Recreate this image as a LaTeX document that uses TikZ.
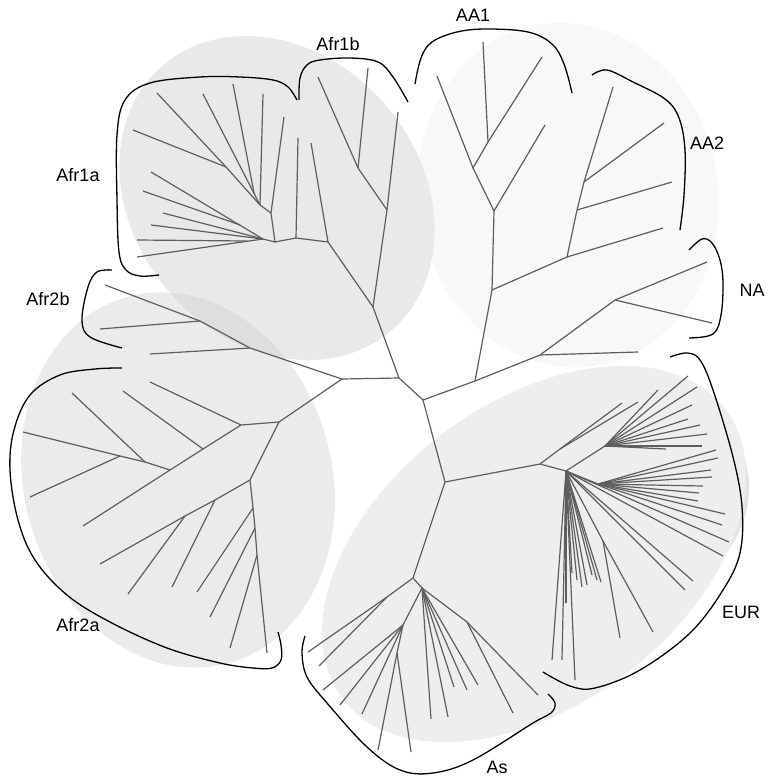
\documentclass[tikz,border=0pt]{standalone}
\usepackage{fontspec}
\setmainfont{Liberation Sans}
\definecolor{treegray}{HTML}{5E5E5E}
\definecolor{fAfrA}{HTML}{E9E9E9}
\definecolor{fAfrB}{HTML}{EBEBEB}
\definecolor{fAA}{HTML}{F8F8F8}
\definecolor{fAs}{HTML}{EEEEEE}
\definecolor{fDark}{HTML}{E3E3E3}
\definecolor{fOver}{HTML}{DEDEDE}
\newcommand\leaf[4]{\coordinate (#1) at (#2,#3); \draw[br] (#4) -- (#1);}
\begin{document}
\begin{tikzpicture}[x=1pt,y=-1pt,
 br/.style={draw=treegray, line width=1.2pt},
 brk/.style={draw=black, line width=1.3pt},
 lab/.style={font=\fontsize{18}{21}\selectfont, inner sep=0pt}]
\useasboundingbox (0,0) rectangle (768,778);
% ---------- shaded groups
\fill[fAA, rotate around={10:(568,195)}] (568,195) ellipse [x radius=150, y radius=173];
\fill[fDark] (657,488) ellipse [x radius=92, y radius=98];
\fill[fAs, rotate around={37:(534,554)}] (534,554) ellipse [x radius=240, y radius=151];
\fill[fAfrB, rotate around={15.5:(178,480)}] (178,480) ellipse [x radius=154, y radius=190];
\fill[fAfrA, rotate around={-49:(277,198)}] (277,198) ellipse [x radius=175, y radius=143];
\begin{scope}
 \clip[rotate around={-49:(277,198)}] (277,198) ellipse [x radius=175, y radius=143];
 \fill[fOver, rotate around={15.5:(178,480)}] (178,480) ellipse [x radius=154, y radius=190];
\end{scope}
% ---------- backbone
\coordinate (A) at (342,379);
\coordinate (B) at (399,378);
\coordinate (C) at (423,400);
\coordinate (D) at (475,381);
\coordinate (E) at (445,482);
\coordinate (F) at (373,307);
\draw[br] (A) -- (B) -- (C) -- (D);
\draw[br] (C) -- (E);
\draw[br] (B) -- (F);
% ---------- Afr1
\coordinate (J) at (328,242);
\coordinate (K) at (387,210);
\coordinate (L) at (358,168);
\coordinate (M) at (296,238);
\coordinate (N) at (275,242);
\coordinate (O) at (271,213);
\coordinate (P) at (260,205);
\coordinate (Q) at (226,167);
\coordinate (R) at (254,193);
\coordinate (N2) at (263,239);
\coordinate (W1) at (247,241);
\coordinate (W2) at (240,225);
\draw[br] (F) -- (J);
\draw[br] (F) -- (K) -- (L);
\draw[br] (J) -- (M) -- (N) -- (O) -- (P) -- (Q);
\draw[br] (N) -- (N2);
\leaf{k1}{398}{112}{K}
\leaf{l1}{368}{68}{L}
\leaf{l2}{318}{77}{L}
\leaf{j1}{311}{143}{J}
\leaf{m1}{298}{138}{M}
\leaf{o1}{284}{117}{O}
\leaf{p1}{263}{94}{P}
\leaf{p2}{203}{94}{P}
\leaf{r1}{233}{84}{R}
\leaf{q1}{157}{93}{Q}
\leaf{q2}{133}{130}{Q}
\leaf{n1}{151}{172}{N2}
\leaf{w2}{143}{191}{W2}
\leaf{n2}{163}{213}{N2}
\leaf{n3}{151}{225}{N2}
\leaf{n4}{137}{257}{N2}
\leaf{w1}{137}{240}{W1}
% ---------- Afr2
\coordinate (G) at (279,422);
\coordinate (H) at (241,425);
\coordinate (I) at (250,480);
\coordinate (a1) at (200,321);
\coordinate (a2) at (250,348);
\draw[br] (A) -- (a2) -- (a1);
\leaf{a0}{105}{285}{a1}
\leaf{a1l}{100}{329}{a1}
\leaf{a2l}{150}{354}{a2}
\draw[br] (A) -- (G) -- (H);
\draw[br] (G) -- (I);
\leaf{h0}{150}{382}{H}
\coordinate (H1) at (203,449);
\coordinate (H2) at (170,470);
\coordinate (H3) at (145,462);
\coordinate (H4) at (120,456);
\draw[br] (H) -- (H1) -- (H2);
\leaf{h1}{83}{526}{H2}
\leaf{h2}{123}{391}{H1}
\draw[br] (H2) -- (H3);
\leaf{h3}{72}{393}{H3}
\draw[br] (H3) -- (H4);
\leaf{h4}{23}{432}{H4}
\leaf{h5}{30}{497}{H4}
\coordinate (I1) at (253,508);
\coordinate (I2) at (255,528);
\coordinate (I3) at (257,555);
\draw[br] (I) -- (I1) -- (I2) -- (I3);
\leaf{i0}{267}{653}{I3}
\leaf{i1}{197}{592}{I1}
\leaf{i2}{210}{617}{I2}
\leaf{i3}{230}{648}{I3}
\coordinate (I4) at (215,500);
\coordinate (I5) at (185,516);
\draw[br] (I) -- (I4) -- (I5);
\leaf{i6}{100}{564}{I5}
\leaf{i4}{172}{587}{I4}
\leaf{i5}{128}{594}{I5}
% ---------- AA / NA
\coordinate (S1) at (492,290);
\coordinate (S2) at (494,211);
\coordinate (S3) at (473,168);
\coordinate (S4) at (488,142);
\coordinate (T1) at (567,257);
\coordinate (T2) at (577,210);
\coordinate (T3) at (584,182);
\coordinate (V) at (540,355);
\coordinate (U) at (615,300);
\draw[br] (D) -- (S1) -- (S2) -- (S3) -- (S4);
\leaf{s1}{437}{76}{S3}
\leaf{s2}{483}{42}{S4}
\leaf{s3}{542}{57}{S4}
\leaf{s4}{545}{125}{S2}
\draw[br] (S1) -- (T1) -- (T2) -- (T3);
\leaf{t1}{613}{87}{T3}
\leaf{t2}{664}{123}{T3}
\leaf{t3}{672}{182}{T2}
\leaf{t4}{663}{228}{T1}
\draw[br] (D) -- (V) -- (U);
\leaf{v1}{638}{352}{V}
\leaf{u1}{707}{262}{U}
\leaf{u2}{712}{323}{U}
% ---------- EUR
\coordinate (W) at (540,464);
\coordinate (Wj) at (560,449);
\coordinate (X) at (566,471);
\coordinate (Xu) at (605,446);
\coordinate (Xr) at (598,484);
\coordinate (Xl) at (603,541);
\draw[br] (E) -- (W) -- (X);
\draw[br] (W) -- (Wj);
\leaf{w0}{622}{403}{Wj}
\leaf{w3}{638}{402}{Wj}
\draw[br] (X) -- (Xu);
\draw[br] (X) -- (Xr);
\draw[br] (X) -- (Xl);
\leaf{eu1}{658}{390}{Xu}
\leaf{eu2}{688}{376}{Xu}
\leaf{eu3}{697}{387}{Xu}
\leaf{eu4}{692}{405}{Xu}
\leaf{eu5}{688}{419}{Xu}
\leaf{eu6}{700}{425}{Xu}
\leaf{eu7}{707}{434}{Xu}
\leaf{eu8}{666}{449}{Xu}
\leaf{eu9}{702}{446}{Xu}
\leaf{er1}{716}{450}{Xr}
\leaf{er2}{718}{458}{Xr}
\leaf{er3}{711}{470}{Xr}
\leaf{er4}{712}{477}{Xr}
\leaf{er5}{703}{486}{Xr}
\leaf{er6}{699}{493}{Xr}
\leaf{er7}{698}{501}{Xr}
\leaf{er8}{725}{514}{Xr}
\leaf{er9}{722}{525}{Xr}
\leaf{ex1}{729}{542}{X}
\leaf{ex2}{723}{556}{X}
\leaf{ex3}{693}{581}{X}
\leaf{ex4}{685}{590}{X}
\leaf{el1}{653}{632}{Xl}
\leaf{el2}{620}{638}{Xl}
\leaf{ed1}{552}{660}{X}
\leaf{ed2}{562}{660}{X}
\leaf{ed3}{575}{680}{X}
\leaf{ed4}{566}{603}{X}
\leaf{ed5}{572}{573}{X}
\leaf{ed6}{577}{580}{X}
\leaf{ed7}{582}{587}{X}
\leaf{ed8}{587}{585}{X}
\leaf{ed9}{592}{575}{X}
\leaf{ed10}{597}{580}{X}
\leaf{ed11}{601}{582}{X}
% ---------- As
\coordinate (Y) at (413,578);
\coordinate (Z) at (422,588);
\coordinate (Y1) at (387,597);
\coordinate (J1) at (403,625);
\coordinate (J2) at (397,653);
\coordinate (J3) at (467,622);
\draw[br] (E) -- (Y) -- (Z);
\draw[br] (Y) -- (Y1);
\leaf{y1}{308}{652}{Y1}
\leaf{y2}{319}{666}{Y1}
\draw[br] (Z) -- (J1) -- (J2);
\leaf{j11}{323}{690}{J1}
\leaf{j12}{340}{705}{J1}
\leaf{j13}{362}{714}{J1}
\leaf{j21}{378}{750}{J2}
\leaf{j22}{411}{752}{J2}
\leaf{z1}{431}{719}{Z}
\leaf{z2}{448}{717}{Z}
\leaf{z3}{454}{687}{Z}
\leaf{z4}{467}{690}{Z}
\leaf{z5}{478}{685}{Z}
\draw[br] (Z) -- (J3);
\leaf{j31}{513}{713}{J3}
\leaf{j32}{538}{695}{J3}
% ---------- brackets
\draw[brk] plot[smooth, tension=0.6] coordinates {(297,100) (288,87) (273,80) (240,77) (200,77) (150,83) (125,100) (117,135) (117,200) (119,252) (126,270) (140,276) (159,275)};
\draw[brk] plot[smooth, tension=0.6] coordinates {(299,100) (300,78) (307,65) (320,60) (350,58) (378,62) (393,77) (408,102)};
\draw[brk] plot[smooth, tension=0.6] coordinates {(415,84) (421,58) (432,42) (457,32) (487,29) (528,32) (552,44) (564,64) (572,93)};
\draw[brk] plot[smooth, tension=0.6] coordinates {(592,75) (607,70) (633,82) (665,99) (679,118) (685,150) (684,195) (680,230)};
\draw[brk] plot[smooth, tension=0.6] coordinates {(689,250) (702,239) (712,243) (720,260) (723,283) (721,315) (713,334) (689,338)};
\draw[brk] plot[smooth, tension=0.6] coordinates {(670,357) (687,353) (700,360) (713,390) (733,457) (742,507) (740,553) (723,590) (690,633) (640,670) (595,688) (570,686) (543,672)};
\draw[brk] plot[smooth, tension=0.6] coordinates {(305,636) (302,653) (307,677) (327,703) (367,747) (400,770) (433,773) (473,760) (533,723) (551,713) (555,703) (548,694)};
\draw[brk] plot[smooth, tension=0.6] coordinates {(112,270) (97,272) (88,287) (82,320) (90,337) (122,348)};
\draw[brk] plot[smooth, tension=0.6] coordinates {(122,368) (95,369) (60,375) (30,395) (14,430) (10,470) (18,520) (35,560) (67,595) (110,622) (167,648) (220,663) (253,668) (272,668) (281,660) (281,645) (278,632)};
% ---------- labels
\node[lab] (lAfr1a) at (78,175) {Afr1a};
\node[lab] (lAfr1b) at (338,44) {Afr1b};
\node[lab] (lAA1) at (473,15) {AA1};
\node[lab] (lAA2) at (707,143) {AA2};
\node[lab] (lNA) at (752,290) {NA};
\node[lab] (lEUR) at (741,612) {EUR};
\node[lab] (lAs) at (497,767) {As};
\node[lab] (lAfr2a) at (78,625) {Afr2a};
\node[lab] (lAfr2b) at (48,299) {Afr2b};
\end{tikzpicture}
\end{document}
